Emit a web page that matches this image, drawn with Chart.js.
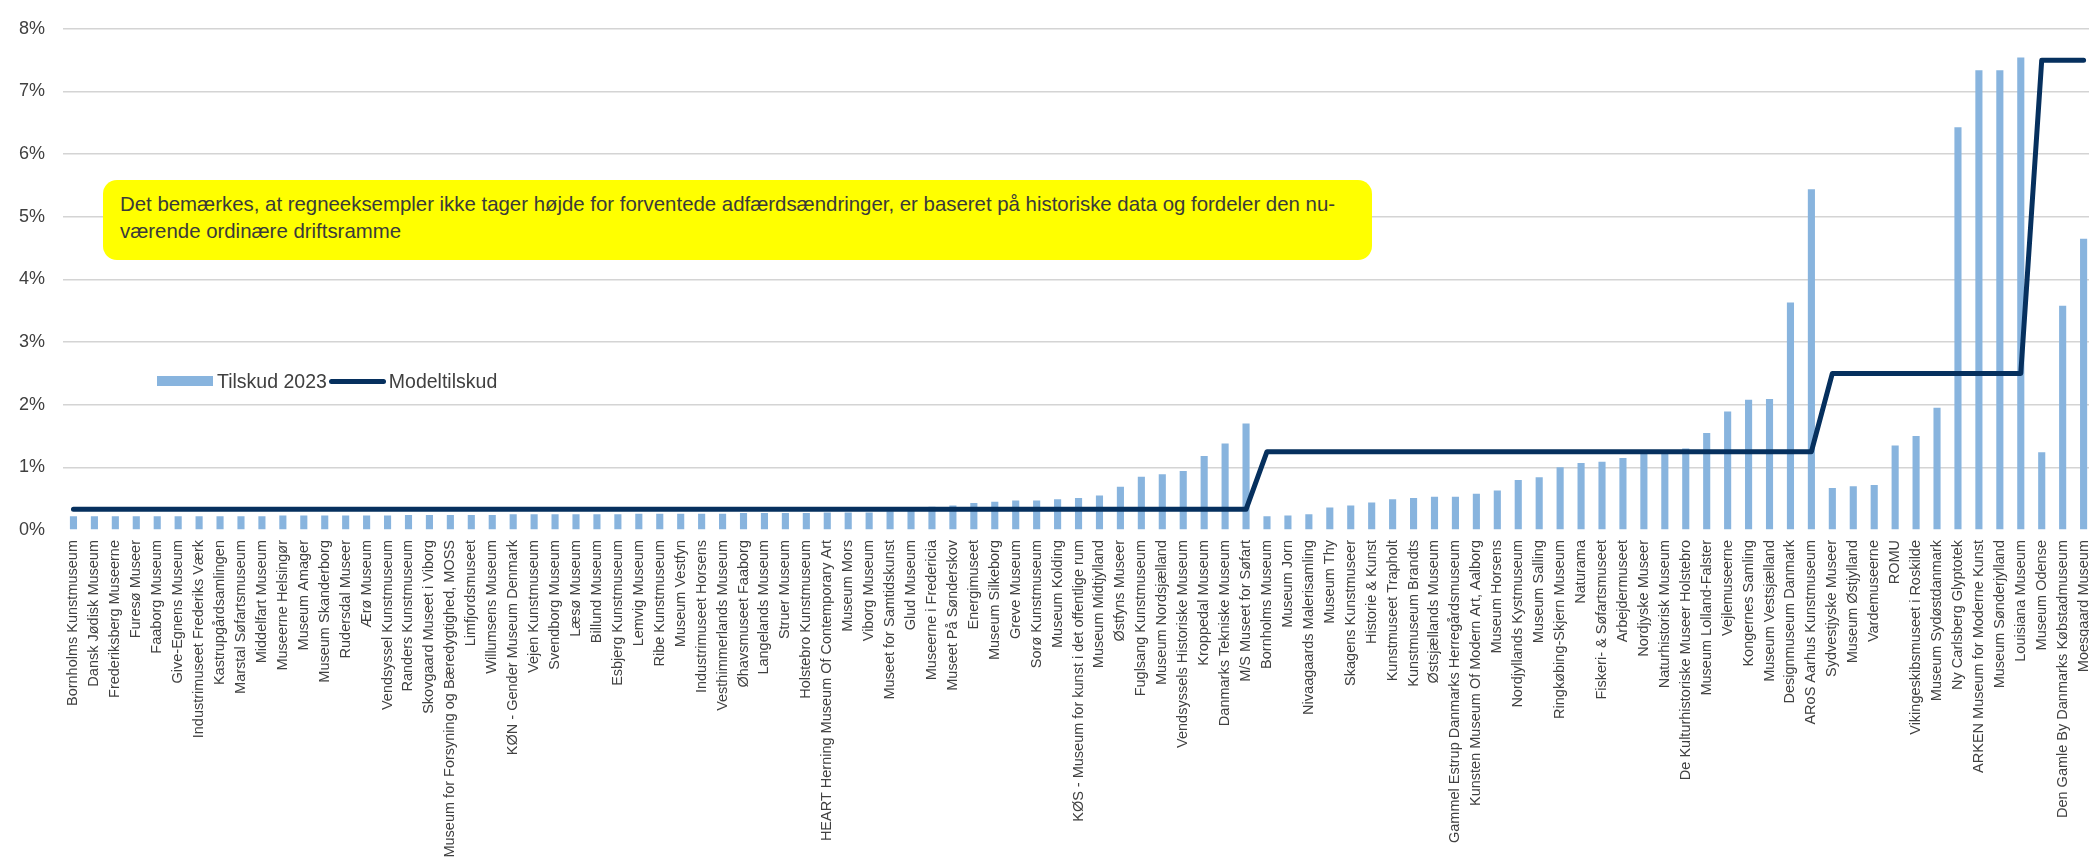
<!DOCTYPE html>
<html>
<head>
<meta charset="utf-8">
<script src="https://cdn.jsdelivr.net/npm/chart.js@4"></script>
<style>
  html, body { margin: 0; padding: 0; background: #fff; overflow: hidden; }
  #wrap { position: relative; width: 2089px; height: 865px; overflow: hidden; }
  #note {
    position: absolute; left: 103px; top: 180px; width: 1269px; height: 80px;
    background: #ffff00; border-radius: 14px; box-sizing: border-box;
    padding: 11px 0 0 17px; font-family: "Liberation Sans", Arial, sans-serif;
    font-size: 20.4px; line-height: 27px; color: #3a3a3a; white-space: nowrap;
  }
  #legend {
    position: absolute; left: 157px; top: 368px; font-family: "Liberation Sans", Arial, sans-serif;
    font-size: 19.5px; color: #404040; display: flex; align-items: center; height: 26px;
  }
  .sw-bar { width: 56px; height: 10px; background: #88b4de; margin-right: 4px; }
  .sw-line { width: 57px; height: 5px; background: #06305e; border-radius: 3px; margin: 0 3px 0 2px; }
</style>
</head>
<body>
<div id="wrap">
  <canvas id="chart"></canvas>
  <div id="note">Det bemærkes, at regneeksempler ikke tager højde for forventede adfærdsændringer, er baseret på historiske data og fordeler den nu-<br>værende ordinære driftsramme</div>
  <div id="legend"><span class="sw-bar"></span>Tilskud 2023<span class="sw-line"></span>Modeltilskud</div>
</div>
<script>
const museums = [
  'Bornholms Kunstmuseum', 'Dansk Jødisk Museum', 'Frederiksberg Museerne', 'Furesø Museer', 'Faaborg Museum',
  'Give-Egnens Museum', 'Industrimuseet Frederiks Værk', 'Kastrupgårdsamlingen', 'Marstal Søfartsmuseum', 'Middelfart Museum',
  'Museerne Helsingør', 'Museum Amager', 'Museum Skanderborg', 'Rudersdal Museer', 'Ærø Museum',
  'Vendsyssel Kunstmuseum', 'Randers Kunstmuseum', 'Skovgaard Museet i Viborg', 'Museum for Forsyning og Bæredygtighed, MOSS', 'Limfjordsmuseet',
  'Willumsens Museum', 'KØN - Gender Museum Denmark', 'Vejen Kunstmuseum', 'Svendborg Museum', 'Læsø Museum',
  'Billund Museum', 'Esbjerg Kunstmuseum', 'Lemvig Museum', 'Ribe Kunstmuseum', 'Museum Vestfyn',
  'Industrimuseet Horsens', 'Vesthimmerlands Museum', 'Øhavsmuseet Faaborg', 'Langelands Museum', 'Struer Museum',
  'Holstebro Kunstmuseum', 'HEART Herning Museum Of Contemporary Art', 'Museum Mors', 'Viborg Museum', 'Museet for Samtidskunst',
  'Glud Museum', 'Museerne i Fredericia', 'Museet På Sønderskov', 'Energimuseet', 'Museum Silkeborg',
  'Greve Museum', 'Sorø Kunstmuseum', 'Museum Kolding', 'KØS - Museum for kunst i det offentlige rum', 'Museum Midtjylland',
  'Østfyns Museer', 'Fuglsang Kunstmuseum', 'Museum Nordsjælland', 'Vendsyssels Historiske Museum', 'Kroppedal Museum',
  'Danmarks Tekniske Museum', 'M/S Museet for Søfart', 'Bornholms Museum', 'Museum Jorn', 'Nivaagaards Malerisamling',
  'Museum Thy', 'Skagens Kunstmuseer', 'Historie & Kunst', 'Kunstmuseet Trapholt', 'Kunstmuseum Brandts',
  'Østsjællands Museum', 'Gammel Estrup Danmarks Herregårdsmuseum', 'Kunsten Museum Of Modern Art, Aalborg', 'Museum Horsens', 'Nordjyllands Kystmuseum',
  'Museum Salling', 'Ringkøbing-Skjern Museum', 'Naturama', 'Fiskeri- & Søfartsmuseet', 'Arbejdermuseet',
  'Nordjyske Museer', 'Naturhistorisk Museum', 'De Kulturhistoriske Museer Holstebro', 'Museum Lolland-Falster', 'Vejlemuseerne',
  'Kongernes Samling', 'Museum Vestsjælland', 'Designmuseum Danmark', 'ARoS Aarhus Kunstmuseum', 'Sydvestjyske Museer',
  'Museum Østjylland', 'Vardemuseerne', 'ROMU', 'Vikingeskibsmuseet i Roskilde', 'Museum Sydøstdanmark',
  'Ny Carlsberg Glyptotek', 'ARKEN Museum for Moderne Kunst', 'Museum Sønderjylland', 'Louisiana Museum', 'Museum Odense',
  'Den Gamle By Danmarks Købstadmuseum', 'Moesgaard Museum'
];

// Tilskud 2023, % of total
const tilskud2023 = [
  0.22, 0.22, 0.22, 0.22, 0.22, 0.22, 0.22, 0.22, 0.22, 0.22,
  0.23, 0.23, 0.23, 0.23, 0.23, 0.23, 0.24, 0.24, 0.24, 0.24,
  0.24, 0.25, 0.25, 0.25, 0.25, 0.25, 0.25, 0.26, 0.26, 0.26,
  0.26, 0.26, 0.27, 0.27, 0.27, 0.27, 0.28, 0.28, 0.28, 0.30,
  0.33, 0.37, 0.39, 0.43, 0.45, 0.47, 0.47, 0.49, 0.51, 0.55,
  0.69, 0.85, 0.89, 0.94, 1.18, 1.38, 1.70, 0.22, 0.23, 0.25,
  0.36, 0.39, 0.44, 0.49, 0.51, 0.53, 0.53, 0.58, 0.63, 0.80,
  0.84, 1.00, 1.07, 1.09, 1.15, 1.23, 1.27, 1.30, 1.55, 1.89,
  2.08, 2.09, 3.63, 5.44, 0.67, 0.70, 0.72, 1.35, 1.50, 1.95,
  6.43, 7.34, 7.34, 7.54, 1.24, 3.58, 4.65
];

// Modeltilskud, % of total
const modeltilskud = [
  0.33, 0.33, 0.33, 0.33, 0.33, 0.33, 0.33, 0.33, 0.33, 0.33,
  0.33, 0.33, 0.33, 0.33, 0.33, 0.33, 0.33, 0.33, 0.33, 0.33,
  0.33, 0.33, 0.33, 0.33, 0.33, 0.33, 0.33, 0.33, 0.33, 0.33,
  0.33, 0.33, 0.33, 0.33, 0.33, 0.33, 0.33, 0.33, 0.33, 0.33,
  0.33, 0.33, 0.33, 0.33, 0.33, 0.33, 0.33, 0.33, 0.33, 0.33,
  0.33, 0.33, 0.33, 0.33, 0.33, 0.33, 0.33, 1.25, 1.25, 1.25,
  1.25, 1.25, 1.25, 1.25, 1.25, 1.25, 1.25, 1.25, 1.25, 1.25,
  1.25, 1.25, 1.25, 1.25, 1.25, 1.25, 1.25, 1.25, 1.25, 1.25,
  1.25, 1.25, 1.25, 1.25, 2.5, 2.5, 2.5, 2.5, 2.5, 2.5,
  2.5, 2.5, 2.5, 2.5, 7.5, 7.5, 7.5
];

const yTicks = [0, 1, 2, 3, 4, 5, 6, 7, 8];

const canvas = document.getElementById('chart');
// the plot runs slightly past the right edge of the picture, so the canvas is wider than the frame
canvas.width = 2111;
canvas.height = 865;

new Chart(canvas, {
  type: 'bar',
  data: {
    labels: museums,
    datasets: [
      {
        type: 'line',
        label: 'Modeltilskud',
        data: modeltilskud,
        borderColor: '#06305e',
        borderWidth: 5,
        pointRadius: 0,
        borderCapStyle: 'round',
        borderJoinStyle: 'round',
        tension: 0,
        order: 0
      },
      {
        label: 'Tilskud 2023',
        data: tilskud2023,
        backgroundColor: '#88b4de',
        categoryPercentage: 1,
        barPercentage: 0.34,
        order: 1
      }
    ]
  },
  options: {
    responsive: false,
    animation: false,
    layout: { padding: { top: 21, right: 0, left: 0, bottom: 0 } },
    plugins: { legend: { display: false }, tooltip: { enabled: false } },
    scales: {
      x: {
        grid: { display: false, drawTicks: false },
        border: { display: false },
        ticks: {
          autoSkip: false, minRotation: 90, maxRotation: 90, padding: 10,
          color: '#404040', font: { family: 'Liberation Sans', size: 14.5 }
        },
        afterFit: s => { s.height = 335; }
      },
      y: {
        min: 0, max: 8,
        afterBuildTicks: s => { s.ticks = yTicks.map(v => ({ value: v })); },
        grid: {
          drawTicks: false, lineWidth: 1.5,
          color: c => (c.tick && c.tick.value === 0) ? 'rgba(0,0,0,0)' : '#d4d4d4'
        },
        border: { display: false },
        ticks: {
          padding: 18, color: '#404040',
          font: { family: 'Liberation Sans', size: 18 },
          callback: v => v + '%'
        },
        afterFit: s => { s.width = 63; }
      }
    }
  }
});
</script>
</body>
</html>
